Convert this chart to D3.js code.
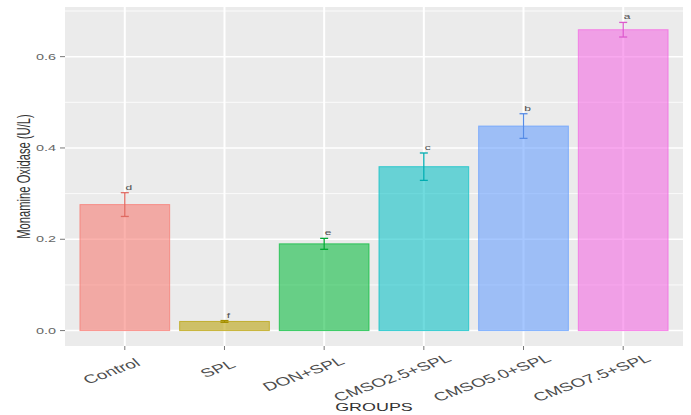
<!DOCTYPE html>
<html>
<head>
<meta charset="utf-8">
<script src="https://cdn.jsdelivr.net/npm/d3@7"></script>
<style>
  html, body { margin: 0; padding: 0; background: #ffffff; }
  svg { display: block; }
  text { font-family: "Liberation Sans", Arial, Helvetica, sans-serif; }
</style>
</head>
<body>
<svg id="chart" width="691" height="415"></svg>
<script>
// Monoamine oxidase activity by treatment group
const groups = ["Control", "SPL", "DON+SPL", "CMSO2.5+SPL", "CMSO5.0+SPL", "CMSO7.5+SPL"];
const means  = [0.276, 0.020, 0.190, 0.359, 0.448, 0.659];
const errors = [0.026, 0.002, 0.012, 0.030, 0.027, 0.016];
const letters = ["d", "f", "e", "c", "b", "a"];
const colors = ["#F8766D", "#B79F00", "#00BA38", "#00BFC4", "#619CFF", "#F564E3"];
const yTicks = [0.0, 0.2, 0.4, 0.6];
const yMinor = [0.1, 0.3, 0.5, 0.7];

const svg = d3.select("#chart");
const panel = { left: 65, right: 683, top: 7, bottom: 346 };
const sx = 1.6; // horizontal text stretch

// y domain with 5% expansion around [0, max(mean + error)]
const yMax = d3.max(means.map((m, i) => m + errors[i]));
const pad = yMax * 0.05;
const y = d3.scaleLinear().domain([-pad, yMax + pad]).range([panel.bottom, panel.top]);
const x = d3.scaleBand().domain(groups).range([panel.left, panel.right])
  .paddingInner(0.1).paddingOuter(0.15);
const cx = g => x(g) + x.bandwidth() / 2;

// panel background
svg.append("rect")
  .attr("x", panel.left).attr("y", panel.top)
  .attr("width", panel.right - panel.left).attr("height", panel.bottom - panel.top)
  .attr("fill", "#EBEBEB");

// grid
const grid = svg.append("g");
grid.selectAll("line.minor").data(yMinor.filter(v => y(v) > panel.top)).join("line")
  .attr("x1", panel.left).attr("x2", panel.right)
  .attr("y1", d => y(d)).attr("y2", d => y(d))
  .attr("stroke", "#ffffff").attr("stroke-width", 0.8);
grid.selectAll("line.major").data(yTicks).join("line")
  .attr("x1", panel.left).attr("x2", panel.right)
  .attr("y1", d => y(d)).attr("y2", d => y(d))
  .attr("stroke", "#ffffff").attr("stroke-width", 1.5);
grid.selectAll("line.vx").data(groups).join("line")
  .attr("x1", d => cx(d)).attr("x2", d => cx(d))
  .attr("y1", panel.top).attr("y2", panel.bottom)
  .attr("stroke", "#ffffff").attr("stroke-width", 2);

// bars
svg.append("g").selectAll("rect").data(groups).join("rect")
  .attr("x", d => x(d))
  .attr("y", (d, i) => y(means[i]))
  .attr("width", x.bandwidth())
  .attr("height", (d, i) => y(0) - y(means[i]))
  .attr("fill", (d, i) => colors[i])
  .attr("fill-opacity", 0.56)
  .attr("stroke", (d, i) => colors[i])
  .attr("stroke-opacity", 0.7)
  .attr("stroke-width", 1);

// error bars
const eb = svg.append("g");
const capHalf = 4;
groups.forEach((g, i) => {
  const c = cx(g), t = y(means[i] + errors[i]), b = y(means[i] - errors[i]);
  const col = d3.color(colors[i]).darker(0.3);
  eb.append("line").attr("x1", c).attr("x2", c).attr("y1", t).attr("y2", b)
    .attr("stroke", col).attr("stroke-width", 1.3);
  eb.append("line").attr("x1", c - capHalf).attr("x2", c + capHalf).attr("y1", t).attr("y2", t)
    .attr("stroke", col).attr("stroke-width", 1.3);
  eb.append("line").attr("x1", c - capHalf).attr("x2", c + capHalf).attr("y1", b).attr("y2", b)
    .attr("stroke", col).attr("stroke-width", 1.3);
});

// significance letters
svg.append("g").selectAll("text").data(groups).join("text")
  .attr("transform", (d, i) => `translate(${cx(d) + 4},${y(means[i] + errors[i]) - 3}) scale(${sx},1)`)
  .attr("text-anchor", "middle")
  .attr("font-size", 7.5)
  .attr("fill", "#505050")
  .text((d, i) => letters[i]);

// y axis
const ya = svg.append("g");
yTicks.forEach(v => {
  ya.append("line").attr("x1", panel.left - 5).attr("x2", panel.left)
    .attr("y1", y(v)).attr("y2", y(v)).attr("stroke", "#777777").attr("stroke-width", 1);
  ya.append("text")
    .attr("transform", `translate(${panel.left - 9},${y(v) + 3.2}) scale(${sx},1)`)
    .attr("text-anchor", "end").attr("font-size", 9).attr("fill", "#666666")
    .text(d3.format(".1f")(v));
});

// x axis
const xa = svg.append("g");
groups.forEach(g => {
  xa.append("line").attr("x1", cx(g)).attr("x2", cx(g))
    .attr("y1", panel.bottom).attr("y2", panel.bottom + 4)
    .attr("stroke", "#777777").attr("stroke-width", 1);
  const t = xa.append("text")
    .attr("font-size", 12).attr("fill", "#4D4D4D")
    .text(g);
  const len = t.node().getComputedTextLength();
  t.attr("x", -0.8 * len)
   .attr("transform", `translate(${cx(g) + 6},369) scale(${sx},1) rotate(-30)`);
});

// axis titles
svg.append("text")
  .attr("transform", `translate(${(panel.left + panel.right) / 2},411) scale(${sx},1)`)
  .attr("text-anchor", "middle").attr("font-size", 11.2).attr("fill", "#333333")
  .text("GROUPS");
svg.append("text")
  .attr("transform", `translate(30,${(panel.top + panel.bottom) / 2}) scale(${sx},1) rotate(-90)`)
  .attr("text-anchor", "middle").attr("font-size", 11.2).attr("fill", "#333333")
  .text("Monamine Oxidase (U/L)");
</script>
</body>
</html>
